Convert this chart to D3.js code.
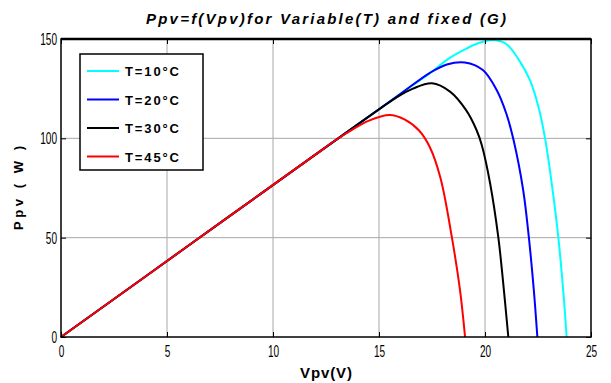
<!DOCTYPE html>
<html>
<head>
<meta charset="utf-8">
<script src="https://cdn.jsdelivr.net/npm/d3@7"></script>
<style>
  body { margin: 0; background: #fff; }
  text { font-family: "Liberation Sans Narrow", "Arial Narrow", "Liberation Sans", sans-serif; }
</style>
</head>
<body>
<div id="chart"></div>
<script>
// values (Vpv in V, Ppv in W)
const xTicks = [0, 5, 10, 15, 20, 25];
const yTicks = [0, 50, 100, 150];

const t10 = [[0, 0], [4, 30.6], [8, 61.2], [12, 91.8], [14, 107], [16, 122.3], [17.5, 133.5],
  [18.2, 139.5], [19, 144.5], [19.7, 148], [20.4, 149.5], [21, 147.5], [21.65, 138.6],
  [22.12, 129.3], [22.52, 115.9], [22.85, 99], [23.2, 73], [23.46, 50], [23.7, 22], [23.85, 0]];
const t20 = [[0, 0], [4, 30.6], [8, 61.2], [12, 91.8], [14, 107], [16, 122.3], [17.4, 133],
  [18.2, 137.2], [19.05, 138.2], [19.9, 134.4], [20.55, 124.3], [21, 112.6], [21.35, 99],
  [21.8, 74], [22.04, 53], [22.3, 24], [22.47, 0]];
const t30 = [[0, 0], [4, 30.6], [8, 61.2], [12, 91.8], [14, 107], [15, 114.6], [15.8, 120.4],
  [16.6, 125], [17.5, 127.7], [18.35, 123.5], [19.1, 114.3], [19.6, 104.2], [19.85, 96.5],
  [20.24, 77.4], [20.63, 50], [20.86, 27], [21.1, 0]];
const t45 = [[0, 0], [4, 30.6], [8, 61.2], [12, 91.8], [13, 99.4], [13.8, 104.8], [14.5, 108.8],
  [15.5, 111.7], [16.2, 109.5], [16.9, 103.8], [17.4, 95.5], [17.9, 80], [18.44, 50],
  [18.82, 23.7], [19.06, 0]];

const seriesLabels = ["T=10°C", "T=20°C", "T=30°C", "T=45°C"];
const seriesColors = ["#00ffff", "#0000ff", "#000000", "#ff0000"];

drawChart([t10, t20, t30, t45]);

function drawChart(series) {
  const width = 611;
  const height = 383;
  const margin = { top: 39, right: 20, bottom: 46, left: 61 };

  const x = d3.scaleLinear().domain([0, 25]).range([margin.left, width - margin.right]);
  const y = d3.scaleLinear().domain([0, 150]).range([height - margin.bottom, margin.top]);

  const svg = d3.select("#chart").append("svg")
    .attr("width", width)
    .attr("height", height);

  // grid
  svg.append("g")
    .selectAll("line")
    .data(xTicks.slice(1, -1))
    .join("line")
    .attr("x1", (d) => x(d)).attr("x2", (d) => x(d))
    .attr("y1", y(0)).attr("y2", y(150))
    .attr("stroke", "#a8a8a8").attr("stroke-width", 1);

  svg.append("g")
    .selectAll("line")
    .data(yTicks.slice(1, -1))
    .join("line")
    .attr("x1", x(0)).attr("x2", x(25))
    .attr("y1", (d) => y(d)).attr("y2", (d) => y(d))
    .attr("stroke", "#a8a8a8").attr("stroke-width", 1);

  // curves
  const line = d3.line()
    .x((d) => x(d[0]))
    .y((d) => y(d[1]))
    .curve(d3.curveCatmullRom.alpha(0.5));

  series.forEach((s, i) => {
    svg.append("path")
      .datum(s)
      .attr("fill", "none")
      .attr("stroke", seriesColors[i])
      .attr("stroke-width", 2)
      .attr("d", line);
  });

  // narrow tick labels, like the MATLAB export
  const narrow = (g) => g.selectAll("text")
    .attr("font-size", "17px")
    .attr("fill", "#000")
    .attr("lengthAdjust", "spacingAndGlyphs")
    .attr("textLength", function () { return this.textContent.length * 5.6; });

  // axes with inward ticks, MATLAB style box
  const tickSize = 5;
  svg.append("g")
    .attr("transform", `translate(0,${y(0)})`)
    .call(d3.axisBottom(x).tickValues(xTicks).tickSize(-tickSize).tickPadding(8))
    .call((g) => g.select(".domain").remove())
    .call(narrow);

  svg.append("g")
    .attr("transform", `translate(${x(0)},0)`)
    .call(d3.axisLeft(y).tickValues(yTicks).tickSize(-tickSize).tickPadding(4))
    .call((g) => g.select(".domain").remove())
    .call(narrow);

  svg.append("g")
    .attr("transform", `translate(0,${y(150)})`)
    .call(d3.axisTop(x).tickValues(xTicks).tickSize(-tickSize).tickFormat(""))
    .call((g) => g.select(".domain").remove());

  svg.append("g")
    .attr("transform", `translate(${x(25)},0)`)
    .call(d3.axisRight(y).tickValues(yTicks).tickSize(-tickSize).tickFormat(""))
    .call((g) => g.select(".domain").remove());

  svg.append("rect")
    .attr("x", x(0)).attr("y", y(150))
    .attr("width", x(25) - x(0)).attr("height", y(0) - y(150))
    .attr("fill", "none").attr("stroke", "#000").attr("stroke-width", 1.5);

  svg.append("line")
    .attr("x1", x(0)).attr("x2", x(25))
    .attr("y1", y(150)).attr("y2", y(150))
    .attr("stroke", "#000").attr("stroke-width", 2.5);

  // title and axis labels
  svg.append("text")
    .attr("x", (x(0) + x(25)) / 2)
    .attr("y", 24)
    .attr("text-anchor", "middle")
    .attr("font-size", "15px")
    .attr("font-weight", "bold")
    .attr("font-style", "italic")
    .attr("textLength", 360)
    .attr("lengthAdjust", "spacing")
    .text("Ppv=f(Vpv)for Variable(T) and fixed (G)");

  svg.append("text")
    .attr("x", (x(0) + x(25)) / 2)
    .attr("y", 378)
    .attr("text-anchor", "middle")
    .attr("font-size", "15px")
    .attr("font-weight", "bold")
    .attr("textLength", 52)
    .attr("lengthAdjust", "spacing")
    .text("Vpv(V)");

  svg.append("text")
    .attr("transform", `translate(23,${(y(0) + y(150)) / 2}) rotate(-90)`)
    .attr("text-anchor", "middle")
    .attr("font-size", "13px")
    .attr("font-weight", "bold")
    .attr("font-family", "'Liberation Sans', Arial, sans-serif")
    .attr("textLength", 84)
    .attr("lengthAdjust", "spacing")
    .text("Ppv ( W )");

  // legend
  const legend = svg.append("g").attr("transform", "translate(80,54)");
  legend.append("rect")
    .attr("width", 123).attr("height", 116)
    .attr("fill", "#fff").attr("stroke", "#000").attr("stroke-width", 1.5);

  seriesLabels.forEach((label, i) => {
    const g = legend.append("g").attr("transform", `translate(0,${17 + i * 28.5})`);
    g.append("line")
      .attr("x1", 7).attr("x2", 39)
      .attr("stroke", seriesColors[i]).attr("stroke-width", 2);
    g.append("text")
      .attr("x", 45).attr("y", 5)
      .attr("font-size", "13px")
      .attr("font-weight", "bold")
      .attr("textLength", 54)
      .attr("lengthAdjust", "spacing")
      .text(label);
  });
}
</script>
</body>
</html>
